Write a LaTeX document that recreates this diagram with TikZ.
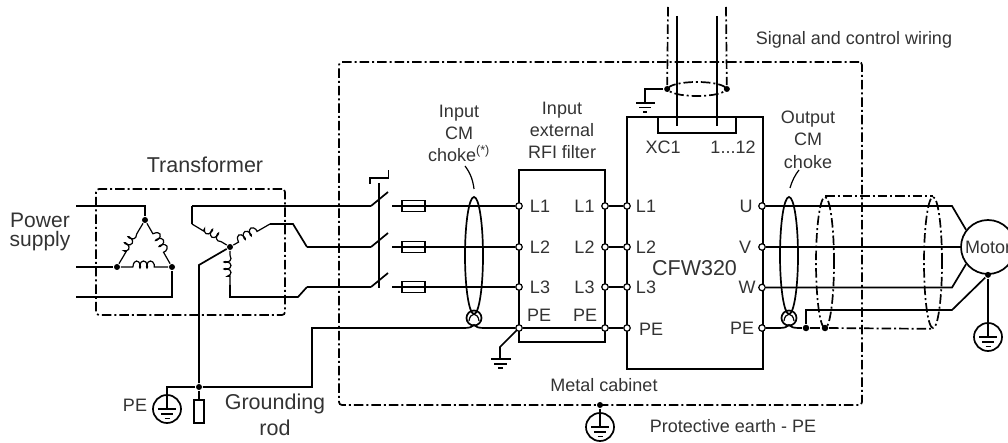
\documentclass[tikz,border=0pt]{standalone}
\usepackage{fontspec}
\setmainfont{Liberation Sans}
\usetikzlibrary{positioning,shapes.geometric,decorations.pathmorphing}

\begin{document}
\begin{tikzpicture}[x=1pt,y=-1pt,line width=1.7pt]
    \tikzstyle{box} = [rectangle, draw, inner sep=0pt, outer sep=0pt]
    \tikzstyle{txt} = [inner sep=0pt, text=black!80, font=\fontsize{18}{18}\selectfont, align=center]
    \tikzstyle{term} = [circle, draw, fill=white, line width=1.2pt, inner sep=0pt, minimum size=6.5pt]
    \tikzstyle{dot} = [circle, fill=black, inner sep=0pt, minimum size=6pt]
    \tikzstyle{shield} = [dash pattern=on 9.5pt off 3pt on 2pt off 3pt]
    \tikzstyle{choke} = [ellipse, draw, inner sep=0pt, minimum width=18pt, minimum height=117pt]
    \tikzstyle{cable} = [ellipse, draw, shield, inner sep=0pt, minimum width=18pt, minimum height=131pt]
    \tikzstyle{ring} = [circle, draw, inner sep=0pt, minimum size=15pt]
    \tikzstyle{earth} = [circle, draw, inner sep=0pt, minimum size=28pt]
    \tikzstyle{winding} = [decorate, line width=1.2pt, decoration={coil, aspect=0.55, amplitude=3.5pt, segment length=7pt, pre length=12pt, post length=12pt}]

    \clip (0,0) rectangle (1008,443);

    % Cabinet and boxes
    \node[box, shield, rounded corners=3pt, minimum width=523pt, minimum height=343pt] (cabinet) at (600.5,233.5) {};
    \node[box, shield, rounded corners=3pt, minimum width=189pt, minimum height=126pt] (trafo) at (190.5,252) {};
    \node[box, minimum width=86pt, minimum height=172pt] (filter) at (562,256) {};
    \node[box, minimum width=136pt, minimum height=252pt] (drive) at (695,243) {};
    \node[box, minimum width=78pt, minimum height=16pt] (xcbox) at (697,125) {};

    % Primary side of the transformer
    \coordinate (pria) at (76,206);
    \coordinate (prib) at (76,267);
    \coordinate (pric) at (76,297);
    \coordinate (pricend) at (172,297);
    \node[dot] (deltaa) at (145,220) {};
    \node[dot] (deltab) at (117,267) {};
    \node[dot] (deltac) at (172,267) {};
    \draw (pria) -| (deltaa);
    \draw (prib) -- (deltab);
    \draw (pric) -- (pricend) -- (deltac);
    \draw[winding, decoration={raise=-2.5pt}] (deltaa) -- (deltab);
    \draw[winding, decoration={raise=2.5pt}] (deltaa) -- (deltac);
    \draw[winding, decoration={raise=2.5pt}] (deltab) -- (deltac);

    % Secondary side of the transformer
    \node[dot] (star) at (230,247) {};
    \coordinate (seca) at (192,224);
    \coordinate (secat) at (192,206);
    \coordinate (secb) at (270,224);
    \coordinate (secbt) at (293,224);
    \coordinate (secbd) at (307,247);
    \coordinate (secc) at (230,285);
    \coordinate (seccd) at (230,297);
    \coordinate (seccr) at (298,297);
    \coordinate (seccu) at (307,287);
    \draw[winding, decoration={raise=-2.5pt, pre length=6pt, post length=8pt}] (star) -- (seca);
    \draw[winding, decoration={raise=2.5pt, pre length=6pt, post length=8pt}] (star) -- (secb);
    \draw[winding, decoration={raise=-2.5pt, pre length=4pt, post length=3pt}] (star) -- (secc);
    \draw (seca) -- (secat);
    \draw (secb) -- (secbt) -- (secbd);
    \draw (secc) -- (seccd) -- (seccr) -- (seccu);

    % Switch, fuses and terminals
    \foreach \n/\y in {1/206,2/247,3/287} {
      \node[term] (fin\n) at (519,\y) {};
      \node[term] (fout\n) at (605,\y) {};
      \node[term] (cin\n) at (627,\y) {};
      \node[box, line width=1.4pt, minimum width=23pt, minimum height=11pt] (fuse\n) at (413.5,\y) {};
      \coordinate (swa\n) at (371,\y);
      \coordinate (swt\n) at (388,\y-14);
      \coordinate (swb\n) at (392,\y);
      \draw (swa\n) -- (swt\n);
      \draw (swb\n) -- (fin\n);
      \draw (fout\n) -- (cin\n);
      \node[txt] (finl\n) at (540,\y) {L\n};
      \node[txt] (foutl\n) at (584.5,\y) {L\n};
      \node[txt] (cinl\n) at (646,\y) {L\n};
    }
    \draw (secat) -- (swa1);
    \draw (secbd) -- (swa2);
    \draw (seccu) -- (swa3);
    \coordinate (linktop) at (379,183);
    \coordinate (linkbot) at (379,288);
    \draw (linktop) -- (linkbot);
    \coordinate (hooka) at (370,184);
    \coordinate (hookb) at (370,178);
    \coordinate (hookc) at (388.5,178);
    \coordinate (hookd) at (388.5,170);
    \draw (hooka) -- (hookb) -- (hookc) -- (hookd);

    % Protective earth wiring
    \node[term] (finpe) at (519,328) {};
    \node[term] (foutpe) at (605,328) {};
    \node[term] (cinpe) at (627,328) {};
    \node[ring] (inring) at (474,318) {};
    \node[dot] (rodtop) at (199,387) {};
    \node[box, minimum width=10pt, minimum height=23pt] (rod) at (199,411.5) {};
    \node[earth] (pegnd) at (167,409) {};
    \coordinate (starb) at (199,265);
    \coordinate (pegndt) at (167,387);
    \coordinate (rodr) at (312,387);
    \coordinate (rodu) at (312,328);
    \draw (star) -- (starb) -- (rodtop);
    \draw (rodtop) -- (rod);
    \draw (rodtop) -- (pegndt) -- (pegnd);
    \draw (rodtop) -- (rodr) -- (rodu) -- (464,328) .. controls (470,328) and (472,327) .. (474,325)
      .. controls (476,327) and (478,328) .. (484,328) -- (finpe);
    \draw (finpe) -- (foutpe);
    \draw (foutpe) -- (cinpe);

    % Filter earth
    \coordinate (fgnda) at (500,347);
    \coordinate (fgndb) at (500,359);
    \draw (finpe) -- (fgnda) -- (fgndb);
    \coordinate (fbara) at (491,359);
    \coordinate (fbarb) at (511,359);
    \draw (fbara) -- (fbarb);
    \draw (494,364) -- (507,364);
    \draw (498,368) -- (503,368);

    % Chokes
    \node[choke] (inchoke) at (474,255.5) {};
    \node[choke] (outchoke) at (789,255.5) {};
    \node[ring] (outring) at (789,318) {};
    \draw[line width=1.2pt] (469,321) .. controls (470,312) and (478,312) .. (479,321);
    \draw[line width=1.2pt] (784,321) .. controls (785,312) and (793,312) .. (794,321);

    % Output wiring
    \node[term] (outu) at (762,206) {};
    \node[term] (outv) at (762,247) {};
    \node[term] (outw) at (762,287.5) {};
    \node[term] (outpe) at (762,328) {};
    \node[draw, circle, inner sep=0pt, minimum size=54pt, text=black!80, font=\fontsize{18}{18}\selectfont] (motor) at (988,247) {Motor};
    \node[dot] (motorpe) at (motor.south) {};
    \node[earth] (motgnd) at (988,337) {};
    \coordinate (ubend) at (952,206);
    \coordinate (wbend) at (952,287.5);
    \coordinate (pebend) at (952,310);
    \coordinate (peup) at (806,310);
    \draw (outu) -- (ubend) -- (motor.142);
    \draw (outv) -- (motor);
    \draw (outw) -- (wbend) -- (motor.218);
    \node[dot, minimum size=6.5pt] (shda) at (806,328) {};
    \node[dot, minimum size=6.5pt] (shdb) at (825,328) {};
    \draw (outpe) -- (779,328) .. controls (785,328) and (787,327) .. (789,325)
      .. controls (791,327) and (793,328) .. (799,328) -- (shda);
    \draw (shda) -- (peup) -- (pebend) -- (motorpe);
    \draw (motorpe) -- (motgnd);

    % Cable shields
    \node[cable] (cablea) at (825,262.5) {};
    \node[cable] (cableb) at (933,262.5) {};
    \draw[shield] (cablea.north) -- (cableb.north);
    \draw[shield] (shdb) -- (cableb.south);
    \draw[shield] (shda) -- (shdb);

    % Signal and control wiring
    \coordinate (sigla) at (677,16);
    \coordinate (siglb) at (717,16);
    \coordinate (sigea) at (677,126);
    \coordinate (sigeb) at (717,126);
    \draw (sigla) -- (sigea);
    \draw (siglb) -- (sigeb);
    \node[ellipse, draw, shield, inner sep=0pt, minimum width=58pt, minimum height=14pt] (sigring) at (697,89) {};
    \node[dot] (sigdota) at (sigring.west) {};
    \node[dot] (sigdotb) at (sigring.east) {};
    \coordinate (sigta) at (668,7);
    \coordinate (sigtb) at (726,7);
    \draw[shield] (sigta) -- (sigdota);
    \draw[shield] (sigtb) -- (sigdotb);
    \coordinate (siggnda) at (645,89);
    \coordinate (siggndb) at (645,103);
    \draw (sigdota) -- (siggnda) -- (siggndb);
    \draw (636,103) -- (655,103);
    \draw (639,107.5) -- (651,107.5);
    \draw (643,112) -- (647,112);

    % Cabinet earth
    \node[dot] (cabdot) at (600,405) {};
    \node[earth] (cabgnd) at (600,427) {};
    \draw (cabdot) -- (cabgnd);

    % Bars in the earth rings
    \foreach \g in {pegnd,motgnd,cabgnd} {
      \draw (\g.north) -- (\g.center);
      \draw ([xshift=-9pt]\g.center) -- ([xshift=9pt]\g.center);
      \draw ([xshift=-6pt,yshift=-5pt]\g.center) -- ([xshift=6pt,yshift=-5pt]\g.center);
      \draw ([xshift=-2.5pt,yshift=-9.5pt]\g.center) -- ([xshift=2.5pt,yshift=-9.5pt]\g.center);
    }

    % Labels
    \node[txt, font=\fontsize{21}{18.5}\selectfont] (lblpower) at (40,232) {Power\\supply};
    \node[txt, font=\fontsize{21.5}{22}\selectfont] (lbltrafo) at (205,165) {Transformer};
    \node[txt] (lblpe) at (135,405) {PE};
    \node[txt, font=\fontsize{21.5}{26}\selectfont] (lblrod) at (275,415) {Grounding\\rod};
    \node[txt, font=\fontsize{18}{22}\selectfont] (lblin) at (459,133) {Input\\CM\\choke\textsuperscript{(*)}};
    \node[txt, font=\fontsize{18}{22}\selectfont] (lblfilter) at (562,130) {Input\\external\\RFI filter};
    \node[txt, font=\fontsize{18}{22.5}\selectfont] (lblout) at (808,139.5) {Output\\CM\\choke};
    \node[txt] (lblsignal) at (854,40) {Signal and control wiring};
    \node[txt] (lblxc) at (663,147) {XC1};
    \node[txt] (lblpins) at (733,147) {1...12};
    \node[txt] (lblfpa) at (539,315) {PE};
    \node[txt] (lblfpb) at (585,315) {PE};
    \node[txt] (lblcpe) at (651,329) {PE};
    \node[txt] (lblu) at (746,206) {U};
    \node[txt] (lblv) at (745,247) {V};
    \node[txt] (lblw) at (747,287.5) {W};
    \node[txt] (lblope) at (742,328) {PE};
    \node[txt, font=\fontsize{21.5}{22}\selectfont] (lbldrive) at (694.5,268) {CFW320};
    \node[txt] (lblcabinet) at (604,385) {Metal cabinet};
    \node[txt] (lblearth) at (733,426) {Protective earth - PE};

    % Choke pointers
    \coordinate (inpa) at (465,166);
    \coordinate (outpa) at (799,170);
    \draw[line width=1.2pt] (inpa) .. controls (471,174) and (473,181) .. (474,189);
    \draw[line width=1.2pt] (outpa) .. controls (795,175) and (792,181) .. (790,188);
  \end{tikzpicture}
\end{document}
